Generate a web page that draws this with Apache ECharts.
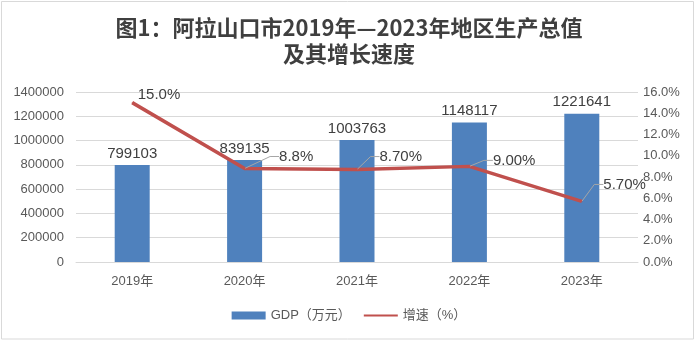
<!DOCTYPE html>
<html>
<head>
<meta charset="utf-8">
<style>
  html, body { margin: 0; padding: 0; background: #ffffff; }
  #chart { width: 698px; height: 341px; }
</style>
<script src="https://cdn.jsdelivr.net/npm/echarts@6/dist/echarts.min.js"></script>
</head>
<body>
<div id="chart"></div>
<script>
// Alashankou city GDP 2019-2023 and its growth rate
const years = ['2019年', '2020年', '2021年', '2022年', '2023年'];
const gdp = [799103, 839135, 1003763, 1148117, 1221641];          // 万元
const growth = [15.0, 8.8, 8.7, 9.0, 5.7];                         // %
const growthDecimals = [1, 1, 2, 2, 2];                            // label precision as published
const gdpTicks = { max: 1400000, step: 200000 };
const rateTicks = { max: 16, step: 2 };

// label offsets (dx, dy) relative to the point, per year
const labelShift = [[-6, -8], [23, -12], [11, -13], [12, -6], [10, -17]];

const chart = echarts.init(document.getElementById('chart'), null, { renderer: 'canvas' });

const axisText = { color: '#595959', fontSize: 13, fontFamily: 'Liberation Sans, Noto Sans CJK SC' };
const valueText = { color: '#404040', fontSize: 15, fontFamily: 'Liberation Sans, Noto Sans CJK SC' };
const titleFont = { fill: '#3f3f3f', fontSize: 22, fontWeight: 'bold', fontFamily: 'Noto Sans CJK SC' };

chart.setOption({
  animation: false,
  backgroundColor: '#ffffff',
  graphic: [
    { type: 'rect', shape: { x: 1.5, y: 1.5, width: 692, height: 337.5 },
      style: { fill: 'none', stroke: '#d9d9d9', lineWidth: 1 }, silent: true },
    { type: 'text', x: 349, y: 28,
      style: Object.assign({ text: '图1：阿拉山口市2019年—2023年地区生产总值', align: 'center', verticalAlign: 'middle' }, titleFont) },
    { type: 'text', x: 349, y: 54,
      style: Object.assign({ text: '及其增长速度', align: 'center', verticalAlign: 'middle' }, titleFont) }
  ],
  legend: {
    bottom: 14,
    left: 'center',
    itemGap: 12,
    itemWidth: 34,
    itemHeight: 8,
    textStyle: { color: '#595959', fontSize: 13, fontFamily: 'Liberation Sans, Noto Sans CJK SC' },
    data: [
      { name: 'GDP（万元）', icon: 'rect' },
      { name: '增速（%）', itemStyle: { opacity: 0 } }
    ]
  },
  grid: { left: 76, right: 60, top: 92, bottom: 79, containLabel: false },
  xAxis: {
    type: 'category',
    data: years,
    axisLine: { lineStyle: { color: '#d9d9d9', width: 1 } },
    axisTick: { show: false },
    axisLabel: Object.assign({ margin: 13 }, axisText)
  },
  yAxis: [
    {
      type: 'value',
      min: 0, max: gdpTicks.max, interval: gdpTicks.step,
      axisLine: { show: false }, axisTick: { show: false },
      splitLine: { lineStyle: { color: '#d9d9d9', width: 1 } },
      axisLabel: Object.assign({ margin: 12, formatter: v => String(v) }, axisText)
    },
    {
      type: 'value',
      min: 0, max: rateTicks.max, interval: rateTicks.step,
      axisLine: { show: false }, axisTick: { show: false },
      splitLine: { show: false },
      axisLabel: Object.assign({ margin: 5, formatter: v => v.toFixed(1) + '%' }, axisText)
    }
  ],
  series: [
    {
      name: 'GDP（万元）',
      type: 'bar',
      data: gdp,
      barWidth: 35,
      itemStyle: { color: '#4f81bd' },
      label: Object.assign({ show: true, position: 'top', distance: 4 }, valueText)
    },
    {
      name: '增速（%）',
      type: 'line',
      yAxisIndex: 1,
      data: growth.map((v, i) => ({
        value: v,
        labelLine: { show: i > 0 }
      })),
      symbol: 'circle',
      symbolSize: 1,
      showSymbol: true,
      lineStyle: { color: '#c0504d', width: 3.5 },
      itemStyle: { color: '#c0504d' },
      label: Object.assign({
        show: true,
        position: 'right',
        distance: 5,
        padding: [0, 0, 0, 6],
        formatter: p => p.value.toFixed(growthDecimals[p.dataIndex]) + '%'
      }, valueText),
      labelLine: { show: true, length2: 9, lineStyle: { color: '#a6a6a6', width: 1 } },
      labelLayout: p => ({ dx: labelShift[p.dataIndex][0], dy: labelShift[p.dataIndex][1] }),
      z: 3
    }
  ]
});
</script>
</body>
</html>
